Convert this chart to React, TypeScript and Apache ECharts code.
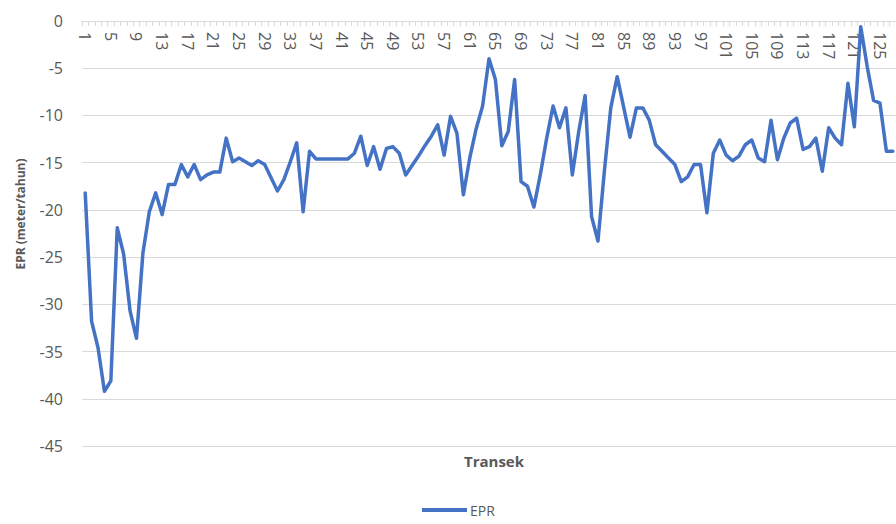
import React, { useEffect, useRef } from "react";
import * as echarts from "echarts";

const epr: number[] = [
  -18.2, -31.8, -34.6, -39.2, -38.1, -21.9, -24.7, -30.7, -33.6, -24.6,
  -20.2, -18.2, -20.5, -17.3, -17.3, -15.2, -16.5, -15.2, -16.8, -16.3,
  -16.0, -16.0, -12.4, -14.9, -14.5, -14.9, -15.3, -14.8, -15.2, -16.6,
  -18.0, -16.8, -14.9, -12.9, -20.2, -13.8, -14.6, -14.6, -14.6, -14.6,
  -14.6, -14.6, -14.0, -12.2, -15.3, -13.3, -15.7, -13.5, -13.3, -14.0,
  -16.3, -15.3, -14.3, -13.2, -12.2, -11.0, -14.2, -10.1, -11.9, -18.4,
  -14.5, -11.4, -9.0, -4.0, -6.2, -13.2, -11.7, -6.2, -17.0, -17.5,
  -19.7, -16.3, -12.4, -9.0, -11.3, -9.2, -16.3, -11.7, -7.9, -20.7,
  -23.3, -15.9, -9.2, -5.9, -9.1, -12.3, -9.2, -9.2, -10.5, -13.1,
  -13.8, -14.5, -15.2, -17.0, -16.5, -15.2, -15.2, -20.3, -14.0, -12.6,
  -14.2, -14.8, -14.3, -13.1, -12.6, -14.5, -14.9, -10.5, -14.7, -12.4,
  -10.8, -10.3, -13.6, -13.3, -12.4, -15.9, -11.3, -12.4, -13.1, -6.6,
  -11.2, -0.6, -4.8, -8.4, -8.7, -13.8, -13.8,
];

const transek: string[] = epr.map((_, i) => String(i + 1));

const yMin = -45;
const yMax = 0;
const yStep = 5;

const seriesName = "EPR";
const xTitle = "Transek";
const yTitle = "EPR (meter/tahun)";

const FONT = "'Open Sans', 'Noto Sans', sans-serif";
const LABEL_COLOR = "#595959";
const GRID_COLOR = "#D9D9D9";
const LINE_COLOR = "#4472C4";

export default function App() {
  const ref = useRef<HTMLDivElement>(null);

  useEffect(() => {
    if (!ref.current) return;
    const chart = echarts.init(ref.current, undefined, { renderer: "svg" });
    chart.setOption({
      animation: false,
      backgroundColor: "#ffffff",
      grid: { left: 82, top: 21, width: 819, height: 425, containLabel: false },
      xAxis: {
        type: "category",
        position: "top",
        data: transek,
        boundaryGap: true,
        axisLine: { show: true, onZero: false, lineStyle: { color: GRID_COLOR, width: 1 } },
        axisTick: {
          show: true,
          inside: true,
          interval: 0,
          length: 5,
          lineStyle: { color: GRID_COLOR, width: 1 },
        },
        axisLabel: {
          inside: true,
          interval: 3,
          rotate: 90,
          margin: 11,
          color: LABEL_COLOR,
          fontFamily: FONT,
          fontSize: 16,
        },
        splitLine: { show: false },
      },
      yAxis: {
        type: "value",
        min: yMin,
        max: yMax,
        interval: yStep,
        axisLine: { show: false },
        axisTick: { show: false },
        axisLabel: {
          margin: 19,
          color: LABEL_COLOR,
          fontFamily: FONT,
          fontSize: 16,
        },
        splitLine: { show: true, lineStyle: { color: GRID_COLOR, width: 1 } },
      },
      legend: {
        data: [seriesName],
        left: 420,
        top: 500,
        padding: 2,
        icon: "rect",
        itemWidth: 45,
        itemHeight: 4,
        textStyle: {
          color: LABEL_COLOR,
          fontFamily: FONT,
          fontSize: 14,
          lineHeight: 16,
          padding: [0, 0, 0, -2],
        },
      },
      graphic: [
        {
          type: "text",
          x: 20,
          y: 214,
          rotation: Math.PI / 2,
          style: {
            text: yTitle,
            fill: LABEL_COLOR,
            font: `bold 12px ${FONT}`,
            align: "center",
            verticalAlign: "middle",
          },
        },
        {
          type: "text",
          x: 494,
          y: 461,
          style: {
            text: xTitle,
            fill: LABEL_COLOR,
            font: `bold 15px ${FONT}`,
            align: "center",
            verticalAlign: "middle",
          },
        },
      ],
      series: [
        {
          name: seriesName,
          type: "line",
          data: epr,
          symbol: "none",
          smooth: false,
          lineStyle: { color: LINE_COLOR, width: 3.5, join: "round", cap: "round" },
          itemStyle: { color: LINE_COLOR },
        },
      ],
    });
    return () => chart.dispose();
  }, []);

  return (
    <div
      ref={ref}
      style={{ position: "fixed", left: 0, top: 0, width: 896, height: 524, background: "#fff" }}
    />
  );
}
